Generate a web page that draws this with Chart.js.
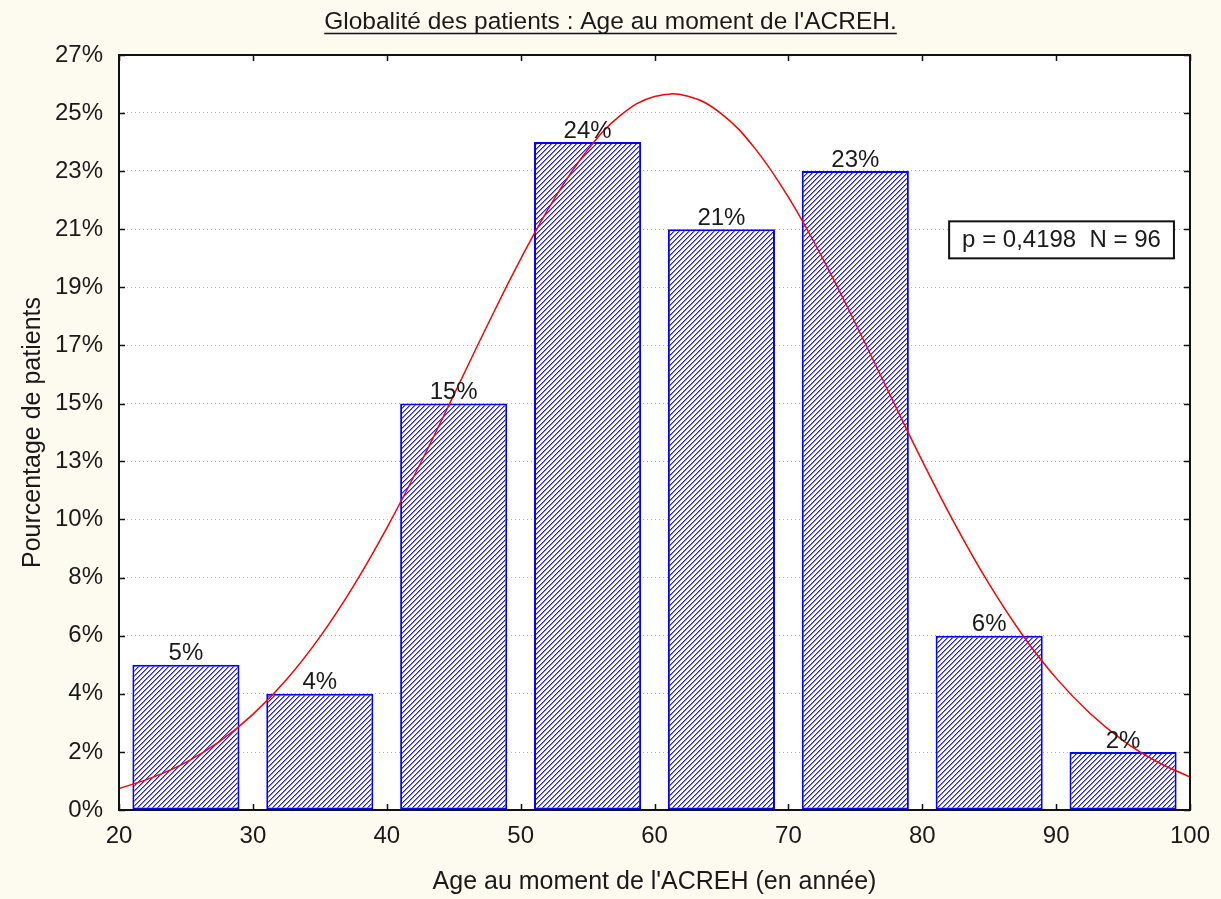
<!DOCTYPE html>
<html>
<head>
<meta charset="utf-8">
<script src="https://cdn.jsdelivr.net/npm/chart.js@4/dist/chart.umd.min.js"></script>
<style>
  html, body { margin: 0; padding: 0; background: #fdfaf0; }
  #wrap { width: 1221px; height: 899px; }
</style>
</head>
<body>
<div id="wrap"><canvas id="chart" width="1221" height="899"></canvas></div>
<script>
// Histogram bins (centre of each 10-year bin) and share of patients (%)
const binCenters = [25, 35, 45, 55, 65, 75, 85, 95];
const pctValues  = [5.21, 4.17, 14.58, 23.96, 20.83, 22.92, 6.25, 2.08];
const barLabels  = ["5%", "4%", "15%", "24%", "21%", "23%", "6%", "2%"];

// Fitted normal curve, every 2.5 years
const curveX = [20, 22.5, 25, 27.5, 30, 32.5, 35, 37.5, 40, 42.5, 45, 47.5, 50, 52.5, 55, 57.5, 60,
                62.5, 65, 67.5, 70, 72.5, 75, 77.5, 80, 82.5, 85, 87.5, 90, 92.5, 95, 97.5, 100];
const curveY = [0.77, 1.17, 1.71, 2.45, 3.43, 4.67, 6.20, 8.02, 10.11, 12.42, 14.88, 17.37, 19.76, 21.91, 23.67, 24.93, 25.59,
                25.60, 24.97, 23.73, 21.98, 19.84, 17.46, 14.98, 12.52, 10.20, 8.10, 6.27, 4.73, 3.48, 2.49, 1.74, 1.18];

// Axis ticks
const xTicks      = [20, 30, 40, 50, 60, 70, 80, 90, 100];
const yTickValues = [0, 2.08, 4.17, 6.25, 8.33, 10.42, 12.5, 14.58, 16.67, 18.75, 20.83, 22.92, 25, 27.08];
const yTickLabels = ["0%", "2%", "4%", "6%", "8%", "10%", "13%", "15%", "17%", "19%", "21%", "23%", "25%", "27%"];

const titleText = "Globalité des patients : Age au moment de l'ACREH.";
const xTitle    = "Age au moment de l'ACREH (en année)";
const yTitle    = "Pourcentage de patients";
const statsText = "p = 0,4198  N = 96";

const FONT = "Arial, 'Liberation Sans', sans-serif";
const TXT  = "#1a1a1a";

// hatch fill for the bars: crisp "/" stripes
function hatch() {
  const n = 5;
  const c = document.createElement("canvas");
  c.width = n; c.height = n;
  const g = c.getContext("2d");
  g.fillStyle = "#ffffff";
  g.fillRect(0, 0, n, n);
  for (let i = 0; i < n; i++) {
    g.fillStyle = "#2020ff";
    g.fillRect(i, n - 1 - i, 1, 1);
    g.fillStyle = "#8080ff";
    g.fillRect((i + 1) % n, n - 1 - i, 1, 1);
  }
  return g.createPattern(c, "repeat");
}

const decor = {
  id: "decor",
  beforeDraw(chart) {
    const { ctx, chartArea: a } = chart;
    ctx.save();
    ctx.fillStyle = "#fdfaf0";
    ctx.fillRect(0, 0, chart.width, chart.height);
    ctx.fillStyle = "#ffffff";
    ctx.fillRect(a.left, a.top, a.right - a.left, a.bottom - a.top);
    ctx.restore();
  },
  afterDraw(chart) {
    const { ctx, chartArea: a, scales } = chart;
    ctx.save();

    // frame + inward ticks on all four sides
    ctx.strokeStyle = "#111";
    ctx.lineWidth = 2;
    ctx.strokeRect(a.left, a.top, a.right - a.left, a.bottom - a.top);
    ctx.lineWidth = 1.5;
    ctx.beginPath();
    yTickValues.forEach((v) => {
      const y = Math.round(scales.y.getPixelForValue(v)) + 0.5;
      ctx.moveTo(a.left, y); ctx.lineTo(a.left + 6, y);
      ctx.moveTo(a.right, y); ctx.lineTo(a.right - 6, y);
    });
    xTicks.forEach((v) => {
      const x = Math.round(scales.x.getPixelForValue(v)) + 0.5;
      ctx.moveTo(x, a.bottom); ctx.lineTo(x, a.bottom - 6);
      ctx.moveTo(x, a.top); ctx.lineTo(x, a.top + 6);
    });
    ctx.stroke();

    // value labels above bars
    ctx.font = `24px ${FONT}`;
    ctx.fillStyle = TXT;
    ctx.textAlign = "center";
    ctx.textBaseline = "bottom";
    chart.getDatasetMeta(1).data.forEach((bar, i) => {
      ctx.fillText(barLabels[i], bar.x, bar.y + 1);
    });

    // stats box
    const bx2 = scales.x.getPixelForValue(98.8);
    const cy = scales.y.getPixelForValue(20.45);
    const tw = ctx.measureText(statsText).width;
    const bw = tw + 26, bh = 37;
    ctx.fillStyle = "#ffffff";
    ctx.fillRect(bx2 - bw, cy - bh / 2, bw, bh);
    ctx.strokeStyle = "#111";
    ctx.lineWidth = 2;
    ctx.strokeRect(bx2 - bw, cy - bh / 2, bw, bh);
    ctx.fillStyle = TXT;
    ctx.textBaseline = "middle";
    ctx.fillText(statsText, bx2 - bw / 2, cy + 1);

    // underlined title
    ctx.font = `24.5px ${FONT}`;
    ctx.textBaseline = "alphabetic";
    const tx = chart.width / 2;
    ctx.fillText(titleText, tx, 29);
    const w = ctx.measureText(titleText).width;
    ctx.lineWidth = 1.5;
    ctx.beginPath();
    ctx.moveTo(tx - w / 2, 33.5);
    ctx.lineTo(tx + w / 2, 33.5);
    ctx.stroke();

    ctx.restore();
  }
};

const ctx = document.getElementById("chart").getContext("2d");

new Chart(ctx, {
  type: "bar",
  data: {
    datasets: [
      {
        type: "line",
        data: curveX.map((x, i) => ({ x, y: curveY[i] })),
        borderColor: "#ff0000",
        borderWidth: 1.5,
        pointRadius: 0,
        tension: 0.4,
        order: 0
      },
      {
        type: "bar",
        data: binCenters.map((x, i) => ({ x, y: pctValues[i] })),
        backgroundColor: hatch(),
        borderColor: "#0000ff",
        borderWidth: 2,
        borderSkipped: false,
        barPercentage: 0.8,
        categoryPercentage: 1,
        order: 1
      }
    ]
  },
  options: {
    responsive: false,
    animation: false,
    devicePixelRatio: 1,
    layout: { padding: { left: 14, top: 55, right: 31, bottom: 0 } },
    plugins: { legend: { display: false }, tooltip: { enabled: false } },
    scales: {
      x: {
        type: "linear",
        min: 20,
        max: 100,
        offset: false,
        afterBuildTicks: (s) => { s.ticks = xTicks.map((v) => ({ value: v })); },
        ticks: { color: TXT, font: { size: 24, family: FONT }, padding: 4, maxRotation: 0 },
        grid: { display: false },
        border: { display: false },
        title: { display: true, text: xTitle, color: TXT, font: { size: 25, family: FONT }, padding: { top: 2, bottom: 2 } },
        afterFit: (s) => { s.height = 89; }
      },
      y: {
        min: 0,
        max: 27.08,
        afterBuildTicks: (s) => { s.ticks = yTickValues.map((v) => ({ value: v })); },
        ticks: {
          color: TXT,
          font: { size: 24, family: FONT },
          padding: 16,
          callback: (v, i) => yTickLabels[i]
        },
        grid: { color: "#b4b4b4", drawTicks: false, lineWidth: 1 },
        border: { display: false, dash: [1, 3] },
        title: { display: true, text: yTitle, color: TXT, font: { size: 25, family: FONT } },
        afterFit: (s) => { s.width = 105; }
      }
    }
  },
  plugins: [decor]
});
</script>
</body>
</html>
